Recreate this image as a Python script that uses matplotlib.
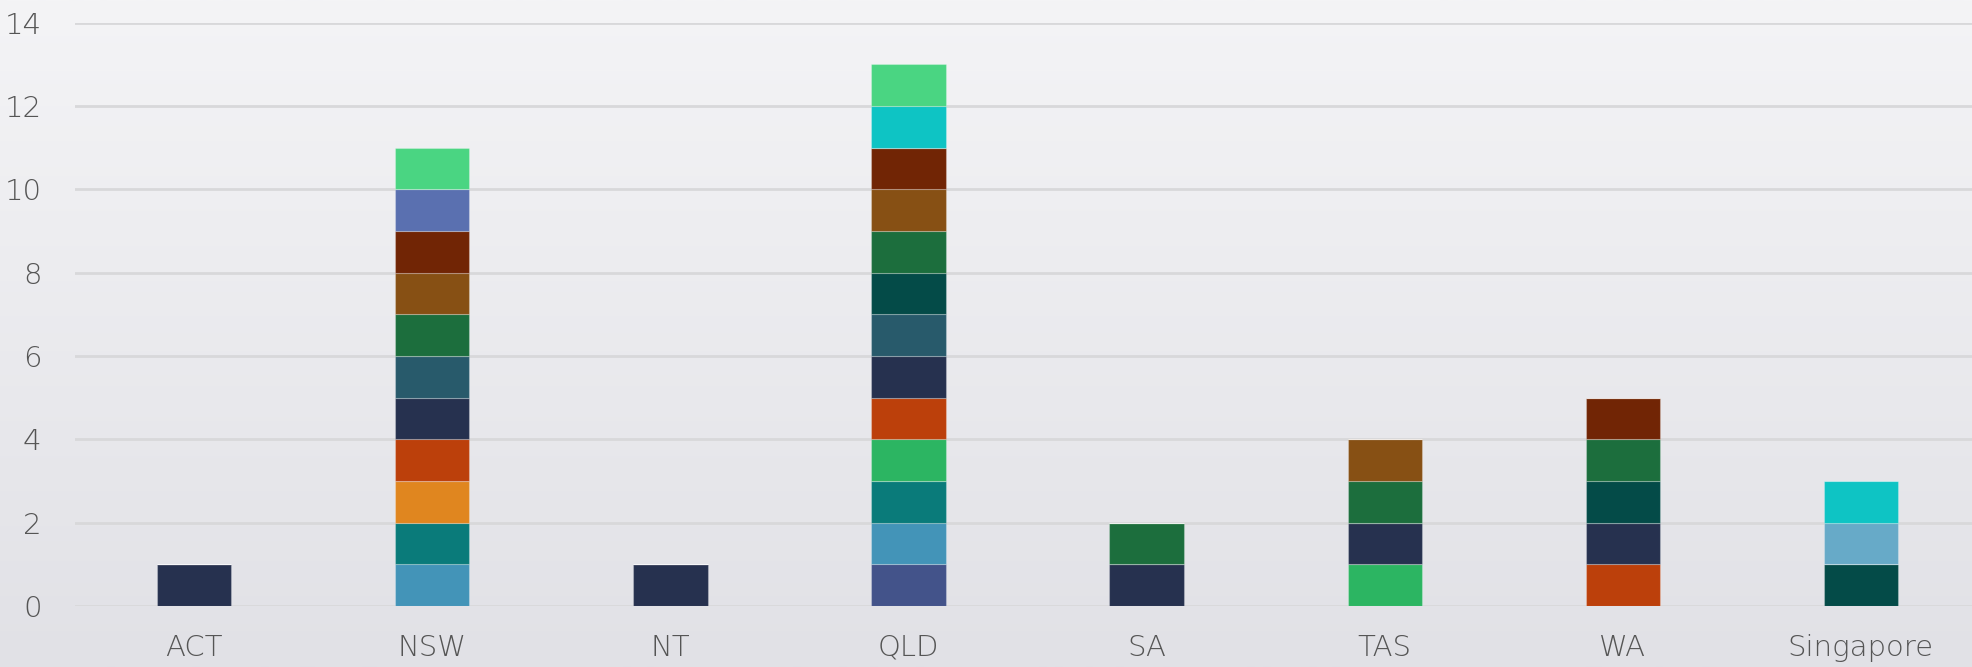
import matplotlib.pyplot as plt
import numpy as np
from matplotlib.colors import LinearSegmentedColormap

categories = ["ACT", "NSW", "NT", "QLD", "SA", "TAS", "WA", "Singapore"]

# stacked series, bottom to top, one value per category
indigo     = [0, 0, 0, 1, 0, 0, 0, 0]
steel      = [0, 1, 0, 1, 0, 0, 0, 0]
teal       = [0, 1, 0, 1, 0, 0, 0, 0]
orange     = [0, 1, 0, 0, 0, 0, 0, 0]
green      = [0, 0, 0, 1, 0, 1, 0, 0]
rust       = [0, 1, 0, 1, 0, 0, 1, 0]
navy       = [1, 1, 1, 1, 1, 1, 1, 0]
slate      = [0, 1, 0, 1, 0, 0, 0, 0]
deep_teal  = [0, 0, 0, 1, 0, 0, 1, 1]
forest     = [0, 1, 0, 1, 1, 1, 1, 0]
brown      = [0, 1, 0, 1, 0, 1, 0, 0]
maroon     = [0, 1, 0, 1, 0, 0, 1, 0]
periwinkle = [0, 1, 0, 0, 0, 0, 0, 0]
sky        = [0, 0, 0, 0, 0, 0, 0, 1]
cyan       = [0, 0, 0, 1, 0, 0, 0, 1]
mint       = [0, 1, 0, 1, 0, 0, 0, 0]

series = [indigo, steel, teal, orange, green, rust, navy, slate,
          deep_teal, forest, brown, maroon, periwinkle, sky, cyan, mint]
colors = ["#43538A", "#4394B8", "#0A7B7A", "#E0861F", "#2CB562", "#BC400B",
          "#26314F", "#285A6B", "#044B48", "#1C6E3D", "#875014", "#712505",
          "#5A70B0", "#67AAC8", "#0EC4C4", "#4AD582"]

plt.rcParams['font.family'] = ['DejaVu Sans']

fig = plt.figure(figsize=(19.72, 6.67), dpi=100)

# background gradient
bg = fig.add_axes([0, 0, 1, 1], zorder=-10)
grad = np.linspace(0, 1, 256).reshape(-1, 1)
cmap = LinearSegmentedColormap.from_list("bg", ["#F4F4F6", "#E1E1E6"])
bg.imshow(grad, aspect='auto', cmap=cmap, extent=[0, 1, 0, 1])
bg.axis('off')

ax = fig.add_axes([75 / 1972, 61 / 667, 1 - 75 / 1972, (606 - 22.6) / 667])
ax.patch.set_alpha(0)

x = np.arange(len(categories))
bottom = np.zeros(len(categories))
for vals, c in zip(series, colors):
    v = np.array(vals, dtype=float)
    ax.bar(x, v, width=0.312, bottom=bottom, color=c,
           edgecolor=(1, 1, 1, 0.25), linewidth=0.8, zorder=3)
    bottom += v

ax.set_ylim(0, 14)
ax.set_xlim(-0.501, 7.467)
ax.set_yticks(range(0, 15, 2))
ax.set_xticks(x)
ax.set_xticklabels(categories)
ax.yaxis.grid(True, color="#D8D8DA", linewidth=2)
ax.set_axisbelow(True)
for s in ax.spines.values():
    s.set_visible(False)
ax.tick_params(axis='both', length=0, labelsize=21, labelcolor="#555555")
ax.tick_params(axis='y', pad=24)
ax.tick_params(axis='x', pad=20)
for lbl in ax.get_xticklabels() + ax.get_yticklabels():
    lbl.set_fontweight('light')

fig.savefig("out.png", dpi=100)
